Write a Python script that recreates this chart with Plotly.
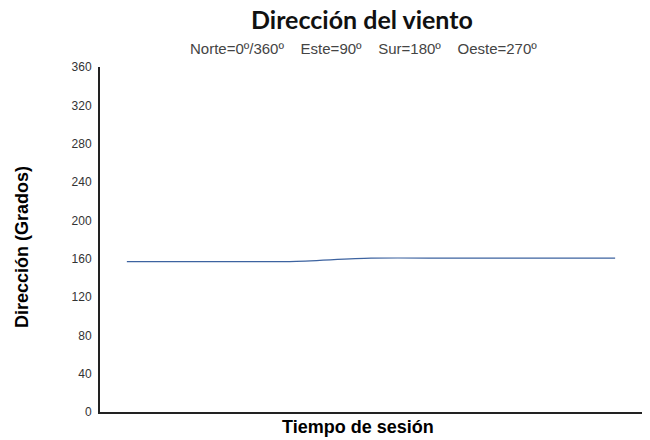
import plotly.graph_objects as go

# Data
sample_index = [0, 1, 2, 3, 4, 5, 6]
direction_deg = [157, 157, 157, 160.5, 160.5, 160.5, 160.5]
y_ticks = [0, 40, 80, 120, 160, 200, 240, 280, 320, 360]

L, R, T, B = 100, 8, 67, 28
W, H = 650, 440
pw, ph = W - L - R, H - T - B

fig = go.Figure()
fig.add_trace(go.Scatter(
    x=sample_index, y=direction_deg, mode="lines",
    line=dict(color="#3d63a0", width=1.2, shape="spline", smoothing=0.8),
    hoverinfo="skip", showlegend=False,
))

fig.update_layout(
    width=W, height=H,
    paper_bgcolor="white", plot_bgcolor="white",
    margin=dict(l=L, r=R, t=T, b=B, autoexpand=False),
    font=dict(family="Liberation Sans, Arial, sans-serif", color="#333333"),
)
fig.add_annotation(text="<b>Dirección del viento</b>", xref="paper", yref="paper",
                   x=(362 - L) / pw, y=1 + (T - 19) / ph, showarrow=False,
                   font=dict(family="Lato, Noto Sans, sans-serif", size=25, color="#111111"),
                   xanchor="center", yanchor="middle")
fig.add_annotation(text="Norte=0º/360º&nbsp;&nbsp;&nbsp;&nbsp;Este=90º&nbsp;&nbsp;&nbsp;&nbsp;Sur=180º&nbsp;&nbsp;&nbsp;&nbsp;Oeste=270º",
                   xref="paper", yref="paper",
                   x=(363 - L) / pw, y=1 + (T - 48) / ph, showarrow=False,
                   font=dict(family="Liberation Sans, Arial, sans-serif", size=15, color="#444444"),
                   xanchor="center", yanchor="middle")
fig.add_annotation(text="<b>Dirección (Grados)</b>", xref="paper", yref="paper",
                   x=(22 - L) / pw, y=1 - (247 - T) / ph, showarrow=False, textangle=-90,
                   font=dict(family="Liberation Sans, Arial, sans-serif", size=18, color="#000000"),
                   xanchor="center", yanchor="middle")
fig.add_annotation(text="<b>Tiempo de sesión</b>", xref="paper", yref="paper",
                   x=(358 - L) / pw, y=-(427 - (H - B)) / ph, showarrow=False,
                   font=dict(family="Liberation Sans, Arial, sans-serif", size=18, color="#000000"),
                   xanchor="center", yanchor="middle")

fig.update_xaxes(
    range=[-0.33, 6.33], showgrid=False, zeroline=False,
    showticklabels=False, ticks="", automargin=False,
    showline=True, linecolor="#222222", linewidth=2,
)
fig.update_yaxes(
    range=[0, 360], tickvals=y_ticks, showgrid=False, zeroline=False,
    showline=True, linecolor="#222222", linewidth=2, ticks="outside",
    ticklen=4, tickcolor="white", automargin=False,
    tickfont=dict(size=12, color="#333333"),
)

fig.write_html("out.html", config={"displayModeBar": False},
               post_script="document.body.style.margin='0';")
